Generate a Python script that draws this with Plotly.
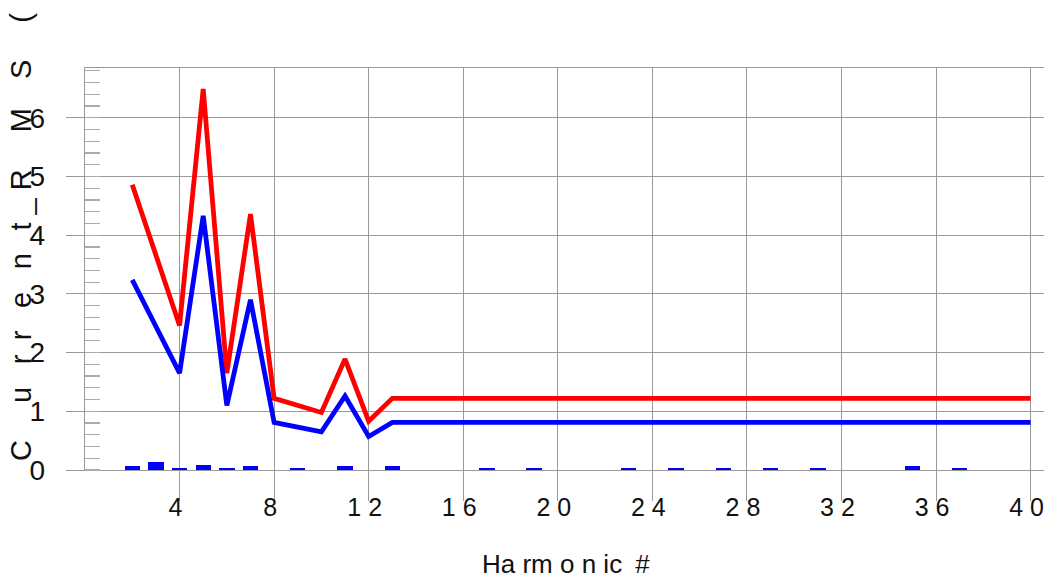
import plotly.graph_objects as go

# ---- data ----
red_x = [2, 4, 5, 6, 7, 8, 10, 11, 12, 13, 40]
red_y = [4.86, 2.46, 6.49, 1.65, 4.36, 1.22, 0.98, 1.89, 0.83, 1.22, 1.22]

blue_x = [2, 4, 5, 6, 7, 8, 10, 11, 12, 13, 40]
blue_y = [3.24, 1.65, 4.33, 1.10, 2.90, 0.81, 0.65, 1.26, 0.57, 0.81, 0.81]

bar_x = [2, 3, 4, 5, 6, 7, 9, 11, 13, 17, 19, 23, 25, 27, 29, 31, 35, 37]
bar_y = [0.06, 0.14, 0.04, 0.09, 0.03, 0.07, 0.03, 0.07, 0.07, 0.03, 0.03,
         0.04, 0.04, 0.03, 0.03, 0.03, 0.06, 0.04]

x_tickvals = [4, 8, 12, 16, 20, 24, 28, 32, 36, 40]
x_ticktext = ["4", "8", "1 2", "1 6", "2 0", "2 4", "2 8", "3 2", "3 6", "4 0"]
y_tickvals = [0, 1, 2, 3, 4, 5, 6]
y_ticktext = ["0", "1", "2", "3", "4", "5", "6"]

NB, EN, EM = "\u00a0", "\u2002", "\u2003"
x_title = "Ha rm o n ic" + EN + "#"
y_title = ("C" + EM + NB + "u" + EN + NB + "r" + EN + "r" + EN + NB + "e" + EN + NB + "n" + EN + NB
           + "t" + NB + "_" + NB + "R" + EM + NB + "M" + EM + "S" + EM + NB + "(")

FONT = "Liberation Sans, Arial, Helvetica, sans-serif"
GRID = "#999999"
TXT = "#111111"

W, H = 1044, 583
PL, PT, PR, PB = 85, 68, 1044, 470          # plot area in page pixels
L, T = PL, PT
PW, PH = PR - PL, PB - PT
R, B = W - L - PW, H - T - PH
X_UNIT = 23.64
Y_UNIT = 58.7


def px_x(sx):
    return (sx - PL) / PW


def px_y(sy):
    return (PB - sy) / PH


fig = go.Figure()
fig.add_trace(go.Bar(x=bar_x, y=bar_y, width=0.65, marker=dict(color="#0000ff", line=dict(width=0)),
                     showlegend=False))
fig.add_trace(go.Scatter(x=red_x, y=red_y, mode="lines",
                         line=dict(color="#ff0000", width=4.8), showlegend=False))
fig.add_trace(go.Scatter(x=blue_x, y=blue_y, mode="lines",
                         line=dict(color="#0000ff", width=4.8), showlegend=False))

fig.update_layout(
    width=W, height=H,
    margin=dict(l=L, r=R, t=T, b=B, autoexpand=False),
    paper_bgcolor="white", plot_bgcolor="white",
    font=dict(family=FONT, size=27, color=TXT),
    bargap=0,
    xaxis=dict(
        automargin=False,
        range=[0, PW / X_UNIT],
        tickvals=x_tickvals, ticktext=x_ticktext,
        ticks="outside", ticklen=30, tickwidth=1, tickcolor=GRID,
        ticklabelstandoff=-15, ticklabelshift=-4, ticklabeloverflow="allow",
        showgrid=True, gridcolor=GRID, gridwidth=1,
        zeroline=False,
        showline=True, linecolor=GRID, linewidth=1.2, mirror=True,
        tickfont=dict(family=FONT, size=25, color=TXT),
        fixedrange=True,
    ),
    yaxis=dict(
        automargin=False,
        range=[0, PH / Y_UNIT],
        tickvals=y_tickvals, ticktext=y_ticktext,
        ticks="outside", ticklen=18, tickwidth=1, tickcolor=GRID,
        ticklabelstandoff=15, ticklabeloverflow="allow",
        showgrid=True, gridcolor=GRID, gridwidth=1,
        zeroline=False,
        showline=True, linecolor=GRID, linewidth=1.2,
        tickfont=dict(family=FONT, size=28, color=TXT),
        minor=dict(ticks="inside", dtick=0.2, tick0=0, ticklen=15, tickwidth=1.2,
                   tickcolor="#ababab", showgrid=False),
        fixedrange=True,
    ),
    annotations=[
        dict(text=x_title, xref="paper", yref="paper", x=px_x(566), y=px_y(564),
             xanchor="center", yanchor="middle", showarrow=False,
             font=dict(family=FONT, size=26, color=TXT)),
        dict(text=y_title, xref="paper", yref="paper", x=px_x(21), y=px_y(463),
             xanchor="center", yanchor="bottom", textangle=-90, showarrow=False,
             font=dict(family=FONT, size=29, color=TXT)),
    ],
)

# remove the default 8px page margin so the figure fills the window exactly
fig.write_html("out.html",
               config={"displayModeBar": False, "staticPlot": True},
               post_script="document.body.style.margin='0';document.body.style.overflow='hidden';")
